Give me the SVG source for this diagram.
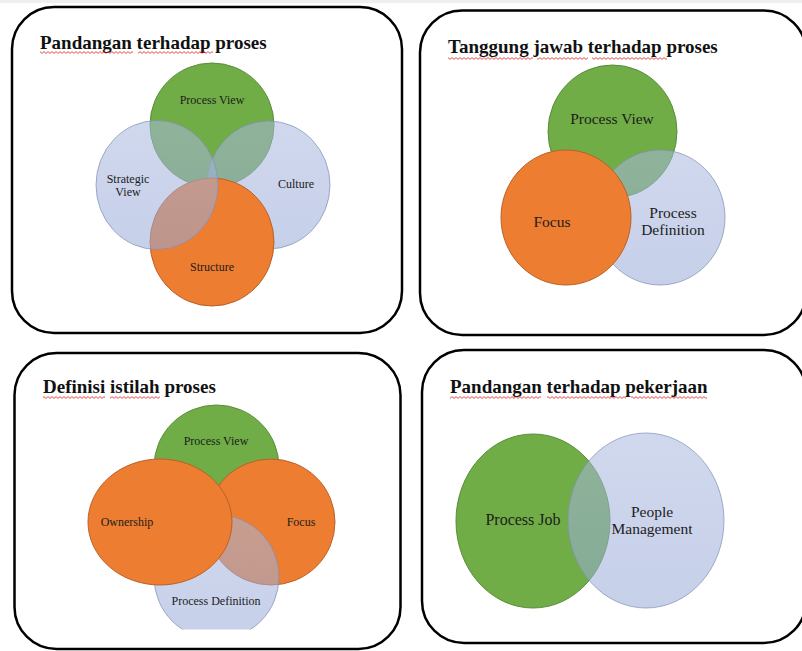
<svg xmlns="http://www.w3.org/2000/svg" width="802" height="651" viewBox="0 0 802 651">
<defs>
<style>
.panel{fill:none;stroke:#000;stroke-width:2.5}
.title{font-family:"Liberation Serif","Times New Roman",serif;font-weight:bold;font-size:19px;fill:#111}
.lbl{font-family:"Liberation Serif","Times New Roman",serif;fill:#1c1c1c;text-anchor:middle}
.s12{font-size:12px}
.s15{font-size:15.5px}
.green{fill:#70AD47;stroke:#5A8C38;stroke-width:1}
.orange{fill:#ED7D31;stroke:#B9612A;stroke-width:1}
.blue{fill:url(#bg);fill-opacity:.55;stroke:#7F8FB5;stroke-opacity:.7;stroke-width:1}
.wave{fill:url(#wv)}
</style>
<linearGradient id="bg" x1="0" y1="0" x2="0" y2="1"><stop offset="0" stop-color="#A9B8DE"/><stop offset="1" stop-color="#97A9D7"/></linearGradient>
<pattern id="wv" x="0" y="0" width="4" height="3" patternUnits="userSpaceOnUse"><path d="M0,0.6 L2,2.4 L4,0.6" fill="none" stroke="#E0201B" stroke-width="0.8"/></pattern>
<clipPath id="c3"><rect x="0" y="340" width="410" height="289.5"/></clipPath>
</defs>
<rect x="0" y="0" width="802" height="651" fill="#fff"/>
<rect x="0" y="0" width="802" height="3" fill="#EFEFEF"/>

<!-- Panel 1 -->
<g id="panel1">
<rect class="panel" x="12" y="7" width="390" height="326" rx="42"/>
<text class="title" x="40" y="49">Pandangan terhadap proses</text>
<rect class="wave" x="40" y="51" width="93" height="3"/>
<rect class="wave" x="138" y="51" width="75" height="3"/>
<g id="p1-process-view"><ellipse class="green" cx="212" cy="125" rx="62" ry="62"/><text class="lbl s12" x="212" y="104">Process View</text></g>
<g id="p1-culture"><ellipse class="blue" cx="268.5" cy="185" rx="61.5" ry="64"/><text class="lbl s12" x="296" y="188">Culture</text></g>
<g id="p1-structure"><ellipse class="orange" cx="212" cy="242" rx="62" ry="64"/><text class="lbl s12" x="212" y="271">Structure</text></g>
<g id="p1-strategic-view"><ellipse class="blue" cx="157" cy="185" rx="61" ry="64.5"/><text class="lbl s12" x="128" y="183">Strategic<tspan x="128" dy="12.5">View</tspan></text></g>
</g>

<!-- Panel 2 -->
<g id="panel2">
<rect class="panel" x="420" y="10.5" width="386" height="324.5" rx="42"/>
<text class="title" x="448" y="53">Tanggung jawab terhadap proses</text>
<rect class="wave" x="448" y="57" width="85" height="3"/>
<rect class="wave" x="537" y="57" width="51" height="3"/>
<rect class="wave" x="592" y="57" width="75" height="3"/>
<g id="p2-process-view"><ellipse class="green" cx="612.5" cy="131.5" rx="64.5" ry="66.5"/><text class="lbl s15" x="612" y="124">Process View</text></g>
<g id="p2-process-definition"><ellipse class="blue" cx="660" cy="217.5" rx="65" ry="67.5"/><text class="lbl s15" x="673" y="218">Process<tspan x="673" dy="17">Definition</tspan></text></g>
<g id="p2-focus"><ellipse class="orange" cx="566" cy="217.5" rx="65" ry="67.5"/><text class="lbl s15" x="552" y="227">Focus</text></g>
</g>

<!-- Panel 3 -->
<g id="panel3">
<rect class="panel" x="14.5" y="353" width="386" height="296" rx="42"/>
<text class="title" x="43" y="392.5">Definisi istilah proses</text>
<rect class="wave" x="43" y="396" width="62" height="3"/>
<rect class="wave" x="110" y="396" width="50" height="3"/>
<g clip-path="url(#c3)">
<g id="p3-process-view"><ellipse class="green" cx="216.5" cy="467" rx="62.5" ry="62"/><text class="lbl s12" x="216" y="445">Process View</text></g>
<g id="p3-focus"><ellipse class="orange" cx="271" cy="522" rx="64" ry="63"/><text class="lbl s12" x="301" y="526">Focus</text></g>
<g id="p3-process-definition"><ellipse class="blue" cx="216.5" cy="577" rx="62.5" ry="62.5"/><text class="lbl s12" x="216" y="605">Process Definition</text></g>
<g id="p3-ownership"><ellipse class="orange" cx="160" cy="522" rx="72" ry="63"/><text class="lbl s12" x="127" y="526">Ownership</text></g>
</g>
</g>

<!-- Panel 4 -->
<g id="panel4">
<rect class="panel" x="422" y="350" width="384" height="293" rx="42"/>
<text class="title" x="450" y="393">Pandangan terhadap pekerjaan</text>
<rect class="wave" x="450" y="396" width="91" height="3"/>
<rect class="wave" x="547" y="396" width="79" height="3"/>
<rect class="wave" x="631" y="396" width="76" height="3"/>
<g id="p4-process-job"><ellipse class="green" cx="533" cy="521" rx="77" ry="87"/><text class="lbl" style="font-size:16px" x="523" y="525">Process Job</text></g>
<g id="p4-people-management"><ellipse class="blue" cx="646" cy="520.5" rx="78" ry="87.5"/><text class="lbl s15" x="652" y="517">People<tspan x="652" dy="17">Management</tspan></text></g>
</g>
<g id="connectors"/>
</svg>
